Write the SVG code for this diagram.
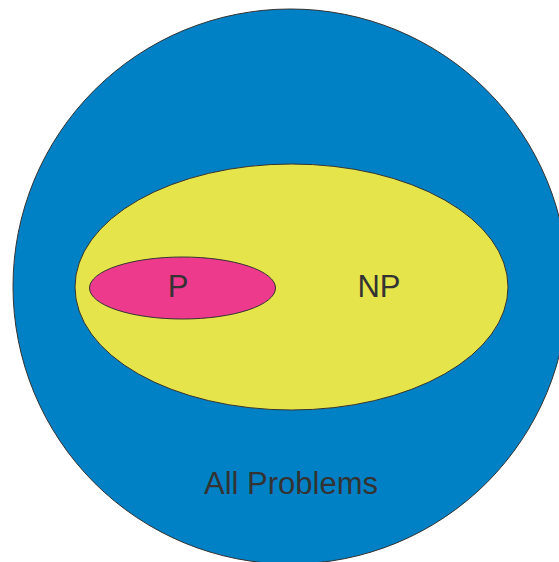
<svg xmlns="http://www.w3.org/2000/svg" width="559" height="562" viewBox="0 0 559 562">
<style>
.s{stroke:#333;stroke-width:1}
.t{font-family:"Liberation Sans",Arial,sans-serif;font-size:31px;fill:#333;text-anchor:middle}
</style>
<rect width="559" height="562" fill="#fff"/>
<g id="all">
<circle class="s" cx="290.5" cy="286.5" r="277.5" fill="#0081C6"/>
<text class="t" x="291" y="494">All Problems</text>
</g>
<g id="np">
<ellipse class="s" cx="291.5" cy="287" rx="216.5" ry="123" fill="#E5E44A"/>
<text class="t" x="379" y="296.5">NP</text>
</g>
<g id="p">
<ellipse class="s" cx="182.5" cy="288" rx="93" ry="31" fill="#EE3A8C"/>
<text class="t" x="178" y="296.5">P</text>
</g>
<g id="connectors"/>
</svg>
